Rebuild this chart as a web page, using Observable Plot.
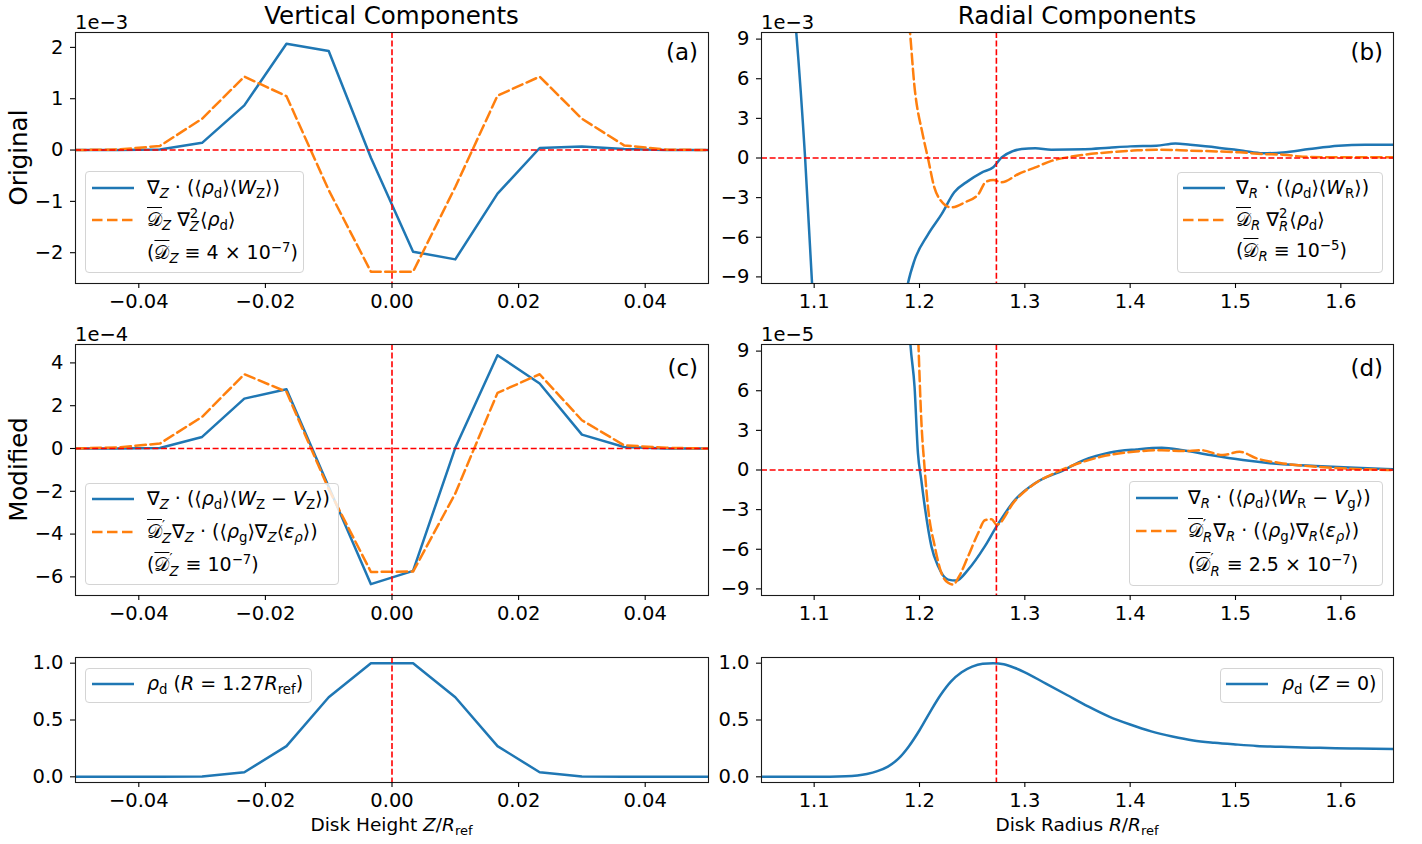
<!DOCTYPE html>
<html><head><meta charset="utf-8">
<script src="https://cdn.jsdelivr.net/npm/d3@7"></script>
<script src="https://cdn.jsdelivr.net/npm/@observablehq/plot@0.6"></script>
<style>
body{margin:0;background:#fff;}
#fig{position:relative;width:1422px;height:844px;overflow:hidden;background:#fff;font-family:"DejaVu Sans";color:#000;}
.pl{position:absolute;}
.leg{position:absolute;background:rgba(255,255,255,0.8);border:1.2px solid #d4d4d4;border-radius:4px;box-sizing:border-box;z-index:2;}
.row{position:absolute;height:32px;display:flex;align-items:center;white-space:nowrap;font-size:19px;z-index:3;}
.row > span{line-height:32px;}
.sb{font-size:0.7em;position:relative;top:0.32em;}
.sp{font-size:0.7em;position:relative;top:-0.5em;}
.ss{display:inline-flex;flex-direction:column;font-size:0.7em;line-height:0.95;vertical-align:0.55em;margin-right:1px;}
.ss > span{line-height:0.95;}
.ov{text-decoration:overline;text-decoration-thickness:1px;}
i{font-style:italic;}
</style>
</head><body>
<div id="fig">
<svg id="ann" width="1422" height="844" style="position:absolute;left:0;top:0;z-index:4;pointer-events:none" font-family="DejaVu Sans" fill="#000">
<text x="391.5" y="24" font-size="24.5" text-anchor="middle">Vertical Components</text>
<text x="1077" y="24" font-size="24.5" text-anchor="middle">Radial Components</text>
<text transform="translate(27,157.5) rotate(-90)" font-size="24.5" text-anchor="middle">Original</text>
<text transform="translate(27,469.5) rotate(-90)" font-size="24.5" text-anchor="middle">Modified</text>
<text x="75" y="28.5" font-size="19.5">1e−3</text>
<text x="761" y="28.5" font-size="19.5">1e−3</text>
<text x="75" y="341" font-size="19.5">1e−4</text>
<text x="761" y="341" font-size="19.5">1e−5</text>
<text x="698" y="59.5" font-size="23" text-anchor="end">(a)</text>
<text x="1383" y="59.5" font-size="23" text-anchor="end">(b)</text>
<text x="698" y="375.5" font-size="23" text-anchor="end">(c)</text>
<text x="1383" y="375.5" font-size="23" text-anchor="end">(d)</text>
<text x="391.5" y="831" font-size="18.5" text-anchor="middle">Disk Height <tspan font-style="italic">Z</tspan>/<tspan font-style="italic">R</tspan><tspan font-size="13" dy="4">ref</tspan></text>
<text x="1077" y="831" font-size="18.5" text-anchor="middle">Disk Radius <tspan font-style="italic">R</tspan>/<tspan font-style="italic">R</tspan><tspan font-size="13" dy="4">ref</tspan></text>
</svg>
</div>
<script>
// ---------------- DATA ----------------
// Vertical grid (Z / R_ref)
const zGrid = [-0.05, -0.04333, -0.03667, -0.03, -0.02333, -0.01667, -0.01, -0.00333, 0.00333, 0.01, 0.01667, 0.02333, 0.03, 0.03667, 0.04333, 0.05];
// (a) original vertical, units 1e-3
const aAdvect = [0, 0, 0.01, 0.14, 0.87, 2.07, 1.93, -0.15, -1.98, -2.13, -0.85, 0.04, 0.07, 0.02, 0, 0];
const aDiffuse = [0, 0.01, 0.08, 0.61, 1.43, 1.05, -0.78, -2.37, -2.37, -0.72, 1.06, 1.43, 0.61, 0.09, 0.01, 0];
// (c) modified vertical, units 1e-4
const cAdvect = [0, 0, 0.02, 0.54, 2.33, 2.77, -1.79, -6.34, -5.72, 0.03, 4.36, 3.04, 0.65, 0.07, 0, 0];
const cDiffuse = [0, 0.05, 0.23, 1.48, 3.47, 2.65, -1.9, -5.77, -5.75, -2.1, 2.6, 3.47, 1.32, 0.15, 0.03, 0];
// (e) vertical density profile at R = 1.27
const eRho = [0, 0, 0, 0.003, 0.04, 0.27, 0.70, 1.0, 1.0, 0.70, 0.27, 0.04, 0.003, 0, 0, 0];

// (b) original radial, units 1e-3
const bAdvectR = [1.075, 1.083, 1.0914, 1.098, 1.105, 1.15, 1.18, 1.189, 1.195, 1.208, 1.221, 1.233, 1.246, 1.259, 1.27, 1.278, 1.288, 1.297, 1.31, 1.325, 1.357, 1.38, 1.4, 1.425, 1.443, 1.457, 1.482, 1.507, 1.526, 1.545, 1.57, 1.598, 1.623, 1.65];
const bAdvectV = [16, 9.5, 0, -9.5, -18, -30, -14, -9.5, -7.8, -5.8, -4.25, -2.6, -1.75, -1.1, -0.7, 0.05, 0.5, 0.68, 0.73, 0.63, 0.66, 0.78, 0.88, 0.93, 1.1, 1.0, 0.8, 0.55, 0.36, 0.42, 0.68, 0.93, 1.0, 1.0];
const bDiffuseR = [1.15, 1.17, 1.185, 1.191, 1.195, 1.203, 1.208, 1.214, 1.22, 1.23, 1.243, 1.256, 1.263, 1.27, 1.278, 1.294, 1.31, 1.326, 1.344, 1.372, 1.403, 1.425, 1.457, 1.482, 1.504, 1.526, 1.545, 1.564, 1.592, 1.65];
const bDiffuseV = [60, 30, 14, 9.5, 5.6, 1.8, 0, -2.2, -3.2, -3.74, -3.36, -2.73, -1.8, -1.67, -1.84, -1.21, -0.71, -0.2, 0.1, 0.38, 0.56, 0.63, 0.56, 0.5, 0.43, 0.3, 0.25, 0.1, 0.05, 0.05];
// (d) modified radial, units 1e-5
const dAdvectR = [1.185, 1.1914, 1.1953, 1.1985, 1.2017, 1.205, 1.2113, 1.2177, 1.2272, 1.235, 1.2462, 1.262, 1.2732, 1.2907, 1.3097, 1.337, 1.356, 1.381, 1.406, 1.43, 1.45, 1.476, 1.507, 1.545, 1.576, 1.608, 1.65];
const dAdvectV = [20, 9.5, 6.3, 1.3, -0.75, -2.76, -5.78, -7.29, -8.3, -8.37, -7.54, -5.78, -4.27, -2.26, -1.0, 0, 0.75, 1.33, 1.56, 1.68, 1.5, 1.13, 0.75, 0.43, 0.3, 0.18, 0.05];
const dDiffuseR = [1.195, 1.199, 1.2017, 1.205, 1.208, 1.2145, 1.2208, 1.2272, 1.232, 1.2377, 1.2462, 1.2557, 1.262, 1.2684, 1.2732, 1.29, 1.31, 1.329, 1.344, 1.372, 1.403, 1.43, 1.45, 1.467, 1.488, 1.504, 1.52, 1.545, 1.576, 1.608, 1.65];
const dDiffuseV = [20, 9.5, 3.8, 0, -2.76, -5.78, -7.8, -8.54, -8.67, -8.04, -6.53, -4.77, -3.8, -3.72, -4.15, -2.39, -1.0, -0.2, 0.3, 1.0, 1.38, 1.5, 1.43, 1.5, 1.13, 1.38, 0.88, 0.5, 0.25, 0.1, 0];
// (f) radial density profile at Z = 0
const fR = [1.05, 1.10, 1.13, 1.15, 1.16, 1.17, 1.18, 1.19, 1.20, 1.21, 1.22, 1.23, 1.24, 1.25, 1.26, 1.27, 1.28, 1.29, 1.30, 1.32, 1.34, 1.36, 1.38, 1.40, 1.42, 1.44, 1.46, 1.48, 1.50, 1.52, 1.55, 1.58, 1.61, 1.65];
const fRho = [0, 0, 0.005, 0.025, 0.05, 0.09, 0.16, 0.27, 0.41, 0.57, 0.72, 0.84, 0.92, 0.97, 0.995, 1.0, 0.99, 0.96, 0.92, 0.82, 0.72, 0.62, 0.53, 0.46, 0.40, 0.355, 0.32, 0.30, 0.285, 0.272, 0.262, 0.255, 0.25, 0.245];

// reference lines
const zRef = 0;
const rRef = 1.273;
// ticks
const zTicks = [-0.04, -0.02, 0, 0.02, 0.04];
const rTicks = [1.1, 1.2, 1.3, 1.4, 1.5, 1.6];
const aTicks = [-2, -1, 0, 1, 2];
const bTicks = [-9, -6, -3, 0, 3, 6, 9];
const cTicks = [-6, -4, -2, 0, 2, 4];
const rhoTicks = [0, 0.5, 1.0];

// ---------------- DRAW ----------------
const BLUE = "#1f77b4", ORANGE = "#ff7f0e", RED = "#ff0000";
const fig = document.getElementById("fig");
const pairs = (xs, ys) => xs.map((x, i) => ({x, y: ys[i]}));

function solid(data, curve) { return Plot.line(data, {x: "x", y: "y", stroke: BLUE, strokeWidth: 2.5, curve: curve || "linear", clip: true}); }
function dashed(data, curve) { return Plot.line(data, {x: "x", y: "y", stroke: ORANGE, strokeWidth: 2.5, strokeDasharray: "10.5,4.5", curve: curve || "linear", clip: true}); }
function hRule() { return Plot.ruleY([0], {stroke: RED, strokeWidth: 1.6, strokeDasharray: "6,2.6"}); }
function vRule(v) { return Plot.ruleX([v], {stroke: RED, strokeWidth: 1.6, strokeDasharray: "6,2.6"}); }

function panel(o) {
  const [left, top, width, height] = o.box;
  const [fx0, fx1, fy0, fy1] = o.frame;
  const svg = Plot.plot({
    width, height,
    marginLeft: fx0 - left, marginRight: left + width - fx1,
    marginTop: fy0 - top, marginBottom: top + height - fy1,
    style: {background: "transparent", overflow: "visible", fontFamily: "DejaVu Sans", fontSize: "19.5px", color: "#000", maxWidth: "none"},
    x: {type: "linear", domain: o.xDomain},
    y: {type: "linear", domain: o.yDomain},
    marks: [
      ...o.marks,
      Plot.frame({stroke: "#1a1a1a", strokeWidth: 1.1}),
      Plot.axisX({ticks: o.xTicks, tickFormat: o.xFmt, tickSize: 5, tickPadding: 6, label: null, strokeWidth: 1.1}),
      Plot.axisY({ticks: o.yTicks, tickFormat: o.yFmt, tickSize: 5, tickPadding: 7, label: null, strokeWidth: 1.1})
    ]
  });
  const d = document.createElement("div");
  d.className = "pl"; d.style.left = left + "px"; d.style.top = top + "px";
  d.appendChild(svg); fig.appendChild(d);
}

const fmtZ = d3.format(".2f"), fmtR = d3.format(".1f"), fmtI = d3.format("d"), fmt1 = d3.format(".1f");
const LEFT = {xDomain: [-0.05, 0.05], xTicks: zTicks, xFmt: fmtZ};
const RIGHT = {xDomain: [1.05, 1.65], xTicks: rTicks, xFmt: fmtR};

panel({...LEFT, box: [0, 0, 720, 330], frame: [75, 708, 32, 283], yDomain: [-2.6, 2.29], yTicks: aTicks, yFmt: fmtI,
  marks: [solid(pairs(zGrid, aAdvect)), dashed(pairs(zGrid, aDiffuse)), hRule(), vRule(zRef)]});
panel({...RIGHT, box: [700, 0, 722, 330], frame: [761, 1393, 32, 283], yDomain: [-9.5, 9.5], yTicks: bTicks, yFmt: fmtI,
  marks: [solid(pairs(bAdvectR, bAdvectV), "monotone-x"), dashed(pairs(bDiffuseR, bDiffuseV), "monotone-x"), hRule(), vRule(rRef)]});
panel({...LEFT, box: [0, 310, 720, 330], frame: [75, 708, 344, 595], yDomain: [-6.87, 4.86], yTicks: cTicks, yFmt: fmtI,
  marks: [solid(pairs(zGrid, cAdvect)), dashed(pairs(zGrid, cDiffuse)), hRule(), vRule(zRef)]});
panel({...RIGHT, box: [700, 310, 722, 330], frame: [761, 1393, 344, 595], yDomain: [-9.5, 9.5], yTicks: bTicks, yFmt: fmtI,
  marks: [solid(pairs(dAdvectR, dAdvectV), "monotone-x"), dashed(pairs(dDiffuseR, dDiffuseV), "monotone-x"), hRule(), vRule(rRef)]});
panel({...LEFT, box: [0, 630, 720, 214], frame: [75, 708, 657, 782], yDomain: [-0.05, 1.05], yTicks: rhoTicks, yFmt: fmt1,
  marks: [solid(pairs(zGrid, eRho)), vRule(zRef)]});
panel({...RIGHT, box: [700, 630, 722, 214], frame: [761, 1393, 657, 782], yDomain: [-0.05, 1.05], yTicks: rhoTicks, yFmt: fmt1,
  marks: [solid(pairs(fR, fRho), "monotone-x"), vRule(rRef)]});

// ---------------- LEGENDS ----------------
const sb = s => `<span class="sb">${s}</span>`;
const sp = s => `<span class="sp">${s}</span>`;
const ss = (a, b) => `<span class="ss"><span>${a}</span><span>${b}</span></span>`;
const D = `<span class="ov">𝒟</span>`;
const rho = `<i>ρ</i>${sb("d")}`;
const rhog = `<i>ρ</i>${sb("g")}`;
function sample(kind) {
  if (!kind) return `<svg width="42" height="10"></svg>`;
  const c = kind === "solid" ? BLUE : ORANGE;
  const da = kind === "solid" ? "" : `stroke-dasharray="10.5,4.5"`;
  return `<svg width="42" height="10"><line x1="0" y1="5" x2="42" y2="5" stroke="${c}" stroke-width="2.5" ${da}/></svg>`;
}
function legend(box, sx, tx, rows) {
  const [x0, y0, x1, y1] = box;
  const l = document.createElement("div");
  l.className = "leg";
  Object.assign(l.style, {left: x0 + "px", top: y0 + "px", width: (x1 - x0) + "px", height: (y1 - y0) + "px"});
  fig.appendChild(l);
  for (const r of rows) {
    const s = document.createElement("div");
    s.className = "row";
    Object.assign(s.style, {left: sx + "px", top: (r.cy - 16) + "px"});
    s.innerHTML = sample(r.kind);
    fig.appendChild(s);
    const t = document.createElement("div");
    t.className = "row";
    Object.assign(t.style, {left: tx + "px", top: (r.cy - 16) + "px"});
    t.innerHTML = `<span>${r.html}</span>`;
    fig.appendChild(t);
  }
}
legend([85, 171, 304, 273], 92, 147, [
  {cy: 188, kind: "solid", html: `∇${sb("<i>Z</i>")} · (⟨${rho}⟩⟨<i>W</i>${sb("Z")}⟩)`},
  {cy: 220, kind: "dash", html: `${D}${sb("<i>Z</i>")} ∇${ss("2", "<i>Z</i>")}⟨${rho}⟩`},
  {cy: 253, kind: null, html: `(${D}${sb("<i>Z</i>")} ≡ 4 × 10${sp("−7")})`}
]);
legend([1177, 172, 1383, 273], 1183, 1236, [
  {cy: 188, kind: "solid", html: `∇${sb("<i>R</i>")} · (⟨${rho}⟩⟨<i>W</i>${sb("R")}⟩)`},
  {cy: 220, kind: "dash", html: `${D}${sb("<i>R</i>")} ∇${ss("2", "<i>R</i>")}⟨${rho}⟩`},
  {cy: 251, kind: null, html: `(${D}${sb("<i>R</i>")} ≡ 10${sp("−5")})`}
]);
legend([85, 483, 339, 585], 92, 147, [
  {cy: 499, kind: "solid", html: `∇${sb("<i>Z</i>")} · (⟨${rho}⟩⟨<i>W</i>${sb("Z")} − <i>V</i>${sb("Z")}⟩)`},
  {cy: 532, kind: "dash", html: `${D}${ss("′", "<i>Z</i>")}∇${sb("<i>Z</i>")} · (⟨${rhog}⟩∇${sb("<i>Z</i>")}⟨<i>ε</i>${sb("<i>ρ</i>")}⟩)`},
  {cy: 565, kind: null, html: `(${D}${ss("′", "<i>Z</i>")} ≡ 10${sp("−7")})`}
]);
legend([1129, 481, 1383, 586], 1136, 1188, [
  {cy: 498, kind: "solid", html: `∇${sb("<i>R</i>")} · (⟨${rho}⟩⟨<i>W</i>${sb("R")} − <i>V</i>${sb("g")}⟩)`},
  {cy: 531, kind: "dash", html: `${D}${ss("′", "<i>R</i>")}∇${sb("<i>R</i>")} · (⟨${rhog}⟩∇${sb("<i>R</i>")}⟨<i>ε</i>${sb("<i>ρ</i>")}⟩)`},
  {cy: 565, kind: null, html: `(${D}${ss("′", "<i>R</i>")} ≡ 2.5 × 10${sp("−7")})`}
]);
legend([85, 668, 312, 703], 92, 147, [
  {cy: 684, kind: "solid", html: `${rho} (<i>R</i> = 1.27<i>R</i>${sb("ref")})`}
]);
legend([1220, 668, 1383, 703], 1226, 1282, [
  {cy: 684, kind: "solid", html: `${rho} (<i>Z</i> = 0)`}
]);
</script>
</body></html>
